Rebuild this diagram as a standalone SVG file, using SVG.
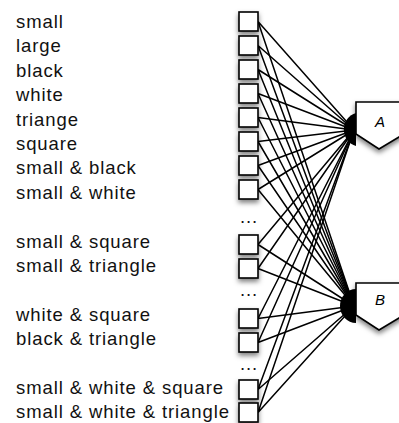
<svg xmlns="http://www.w3.org/2000/svg" width="399" height="423" viewBox="0 0 399 423">
  <defs>
    <filter id="shadow" x="-40%" y="-40%" width="180%" height="190%">
      <feDropShadow dx="0" dy="3" stdDeviation="2.5" flood-color="#000" flood-opacity="0.5"/>
    </filter>
    <style>
      .label { font-family: "Liberation Sans", Arial, sans-serif; font-size: 18.5px; letter-spacing: 0.9px; fill: #111; }
      .dots { font-family: "Liberation Sans", Arial, sans-serif; font-size: 18.5px; letter-spacing: 0.9px; fill: #111; text-anchor: middle; }
      .box { fill: #fff; stroke: #000; stroke-width: 1.6; filter: url(#shadow); }
      .gate { fill: #fff; stroke: #000; stroke-width: 1.6; filter: url(#shadow); }
      .gate-label { font-family: "Liberation Sans", Arial, sans-serif; font-size: 15px; font-style: italic; fill: #000; text-anchor: middle; }
      .wire { stroke: #000; stroke-width: 1.5; fill: none; }
      .fan { fill: #000; }
    </style>
  </defs>

  <rect width="399" height="423" fill="#fff"/>

  <!-- feature labels -->
  <g id="labels">
    <text class="label" x="16" y="28">small</text>
    <text class="label" x="16" y="52.4">large</text>
    <text class="label" x="16" y="76.8">black</text>
    <text class="label" x="16" y="101.2">white</text>
    <text class="label" x="16" y="125.6">triange</text>
    <text class="label" x="16" y="150">square</text>
    <text class="label" x="16" y="174.4">small &amp; black</text>
    <text class="label" x="16" y="198.8">small &amp; white</text>
    <text class="label" x="16" y="247.6">small &amp; square</text>
    <text class="label" x="16" y="272">small &amp; triangle</text>
    <text class="label" x="16" y="320.8">white &amp; square</text>
    <text class="label" x="16" y="345.2">black &amp; triangle</text>
    <text class="label" x="16" y="394">small &amp; white &amp; square</text>
    <text class="label" x="16" y="418.4">small &amp; white &amp; triangle</text>
  </g>

  <!-- connectors: every input box feeds both A and B -->
  <g id="connectors">
    <path class="wire" d="M258,21.5 L354,130 M258,21.5 L354,306"/>
    <path class="wire" d="M258,45.5 L354,130 M258,45.5 L354,306"/>
    <path class="wire" d="M258,69.5 L354,130 M258,69.5 L354,306"/>
    <path class="wire" d="M258,93.5 L354,130 M258,93.5 L354,306"/>
    <path class="wire" d="M258,117.5 L354,130 M258,117.5 L354,306"/>
    <path class="wire" d="M258,141.5 L354,130 M258,141.5 L354,306"/>
    <path class="wire" d="M258,165.5 L354,130 M258,165.5 L354,306"/>
    <path class="wire" d="M258,189.5 L354,130 M258,189.5 L354,306"/>
    <path class="wire" d="M258,244.5 L354,130 M258,244.5 L354,306"/>
    <path class="wire" d="M258,268.5 L354,130 M258,268.5 L354,306"/>
    <path class="wire" d="M258,318.5 L354,130 M258,318.5 L354,306"/>
    <path class="wire" d="M258,342.5 L354,130 M258,342.5 L354,306"/>
    <path class="wire" d="M258,389.5 L354,130 M258,389.5 L354,306"/>
    <path class="wire" d="M258,412.5 L354,130 M258,412.5 L354,306"/>
    <path class="fan" d="M356,113 A16,17 0 0 0 356,146 Z"/>
    <path class="fan" d="M356,289 A16,17 0 0 0 356,323 Z"/>
  </g>

  <!-- input boxes -->
  <g id="inputs">
    <g id="in-small"><rect class="box" x="239" y="12" width="19" height="19"/></g>
    <g id="in-large"><rect class="box" x="239" y="36" width="19" height="19"/></g>
    <g id="in-black"><rect class="box" x="239" y="60" width="19" height="19"/></g>
    <g id="in-white"><rect class="box" x="239" y="84" width="19" height="19"/></g>
    <g id="in-triange"><rect class="box" x="239" y="108" width="19" height="19"/></g>
    <g id="in-square"><rect class="box" x="239" y="132" width="19" height="19"/></g>
    <g id="in-small-black"><rect class="box" x="239" y="156" width="19" height="19"/></g>
    <g id="in-small-white"><rect class="box" x="239" y="180" width="19" height="19"/></g>
    <g id="in-small-square"><rect class="box" x="239" y="235" width="19" height="19"/></g>
    <g id="in-small-triangle"><rect class="box" x="239" y="259" width="19" height="19"/></g>
    <g id="in-white-square"><rect class="box" x="239" y="309" width="19" height="19"/></g>
    <g id="in-black-triangle"><rect class="box" x="239" y="333" width="19" height="19"/></g>
    <g id="in-small-white-square"><rect class="box" x="239" y="380" width="19" height="19"/></g>
    <g id="in-small-white-triangle"><rect class="box" x="239" y="403" width="19" height="19"/></g>
  </g>

  <!-- ellipses between groups -->
  <g id="ellipses">
    <text class="dots" x="249" y="223">...</text>
    <text class="dots" x="249" y="296">...</text>
    <text class="dots" x="249" y="370">...</text>
  </g>

  <!-- output units -->
  <g id="out-A">
    <path class="gate" d="M356,102 H404 V134 L379,149 L356,134 Z"/>
    <text class="gate-label" x="380" y="127">A</text>
  </g>
  <g id="out-B">
    <path class="gate" d="M356,283 H404 V315 L379,330 L356,315 Z"/>
    <text class="gate-label" x="380" y="305">B</text>
  </g>
</svg>
